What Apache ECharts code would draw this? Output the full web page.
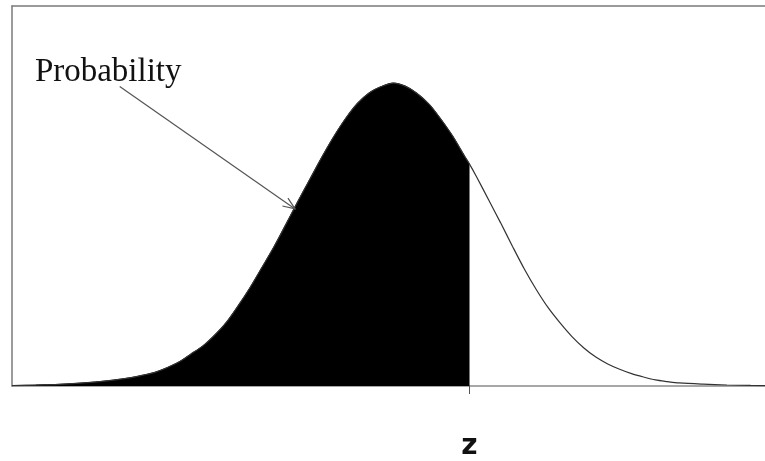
<!DOCTYPE html>
<html>
<head>
<meta charset="utf-8">
<style>
  html, body { margin: 0; padding: 0; background: #fff; }
  #chart { width: 765px; height: 461px; }
</style>
<script src="https://cdn.jsdelivr.net/npm/echarts@6/dist/echarts.min.js"></script>
</head>
<body>
<div id="chart"></div>
<script>
// Standard normal density, sampled along the z axis
const zPoints = [-4, -3.75, -3.5, -3.25, -3, -2.875, -2.75, -2.625, -2.5, -2.375, -2.25, -2.125, -2, -1.875, -1.75, -1.625,
  -1.5, -1.375, -1.25, -1.125, -1, -0.875, -0.75, -0.625, -0.5, -0.375, -0.25, -0.125,
  0, 0.125, 0.25, 0.375, 0.5, 0.625, 0.75, 0.8, 0.875, 1, 1.125, 1.25, 1.375, 1.5, 1.625, 1.75, 1.875,
  2, 2.125, 2.25, 2.375, 2.5, 2.625, 2.75, 2.875, 3, 3.25, 3.5, 3.75, 4];
const density = [0.0006, 0.0012, 0.0022, 0.0040, 0.0068, 0.0088, 0.0110, 0.0142, 0.0180, 0.0240, 0.0315, 0.0419, 0.0525, 0.0668, 0.0840, 0.1060,
  0.1300, 0.1565, 0.1835, 0.2130, 0.2430, 0.2720, 0.3010, 0.3280, 0.3520, 0.3720, 0.3860, 0.3940,
  0.3986, 0.3946, 0.3850, 0.3710, 0.3510, 0.3285, 0.3020, 0.2920, 0.2750, 0.2450, 0.2150, 0.1840, 0.1540, 0.1270, 0.1030, 0.0830, 0.0650,
  0.0500, 0.0380, 0.0290, 0.0220, 0.0162, 0.0118, 0.0080, 0.0058, 0.0040, 0.0024, 0.0013, 0.0007, 0.0004];

// Cut-off value marked on the axis
const zValue = 0.8;
const zLabel = 'z';

// Annotation: text and arrow (data coordinates)
const noteText = 'Probability';
const notePos = [-3.76, 0.4346];
const arrowFrom = [-2.87, 0.394];
const arrowTo = [-1.03, 0.233];

const curve = zPoints.map((x, i) => [x, density[i]]);
const shaded = curve.filter(p => p[0] <= zValue);

const chart = echarts.init(document.getElementById('chart'), null, { renderer: 'canvas' });

chart.setOption({
  animation: false,
  backgroundColor: '#fff',
  grid: { left: 12, top: 6, right: 0, bottom: 73, containLabel: false },
  xAxis: [
    {
      type: 'value', min: -4, max: 3.9, position: 'bottom',
      splitLine: { show: false },
      axisLine: { show: true, onZero: false, lineStyle: { color: '#8a8a8a', width: 1.5 } },
      axisTick: { show: true, customValues: [zValue], length: 8, lineStyle: { color: '#555', width: 1 } },
      axisLabel: {
        show: true, customValues: [zValue], formatter: () => zLabel, margin: 47,
        fontFamily: 'DejaVu Sans', fontSize: 28, fontWeight: 'bold', color: '#111'
      }
    },
    {
      type: 'value', min: -4, max: 3.9, position: 'top',
      splitLine: { show: false }, axisTick: { show: false }, axisLabel: { show: false },
      axisLine: { show: true, onZero: false, lineStyle: { color: '#7a7a7a', width: 1.5 } }
    }
  ],
  yAxis: {
    type: 'value', min: 0, max: 0.5, position: 'left',
    splitLine: { show: false }, axisTick: { show: false }, axisLabel: { show: false },
    axisLine: { show: true, onZero: false, lineStyle: { color: '#7a7a7a', width: 1.5 } }
  },
  series: [
    {
      type: 'line', data: shaded, smooth: 0.3, symbol: 'none', z: 2,
      lineStyle: { color: '#000', width: 1 },
      areaStyle: { color: '#000', opacity: 1 }
    },
    {
      type: 'line', data: curve, smooth: 0.3, symbol: 'none', z: 3,
      lineStyle: { color: '#333', width: 1.2 }
    }
  ]
});

// Annotation drawn in pixel space from its data coordinates
function drawNote() {
  const p0 = chart.convertToPixel({ gridIndex: 0 }, arrowFrom);
  const p1 = chart.convertToPixel({ gridIndex: 0 }, arrowTo);
  const t = chart.convertToPixel({ gridIndex: 0 }, notePos);
  const ang = Math.atan2(p1[1] - p0[1], p1[0] - p0[0]);
  const headLen = 13, spread = 0.38;
  const h1 = [p1[0] - headLen * Math.cos(ang - spread), p1[1] - headLen * Math.sin(ang - spread)];
  const h2 = [p1[0] - headLen * Math.cos(ang + spread), p1[1] - headLen * Math.sin(ang + spread)];
  const stroke = { stroke: '#555', lineWidth: 1.2, fill: null };
  chart.setOption({
    graphic: [
      { type: 'line', shape: { x1: p0[0], y1: p0[1], x2: p1[0], y2: p1[1] }, style: stroke, z: 10 },
      { type: 'polyline', shape: { points: [h1, p1, h2] }, style: stroke, z: 10 },
      {
        type: 'text', x: t[0], y: t[1], z: 10,
        style: {
          text: noteText, fill: '#111', fontFamily: 'Liberation Serif', fontSize: 33,
          verticalAlign: 'top', align: 'left'
        }
      }
    ]
  });
}
drawNote();
</script>
</body>
</html>
